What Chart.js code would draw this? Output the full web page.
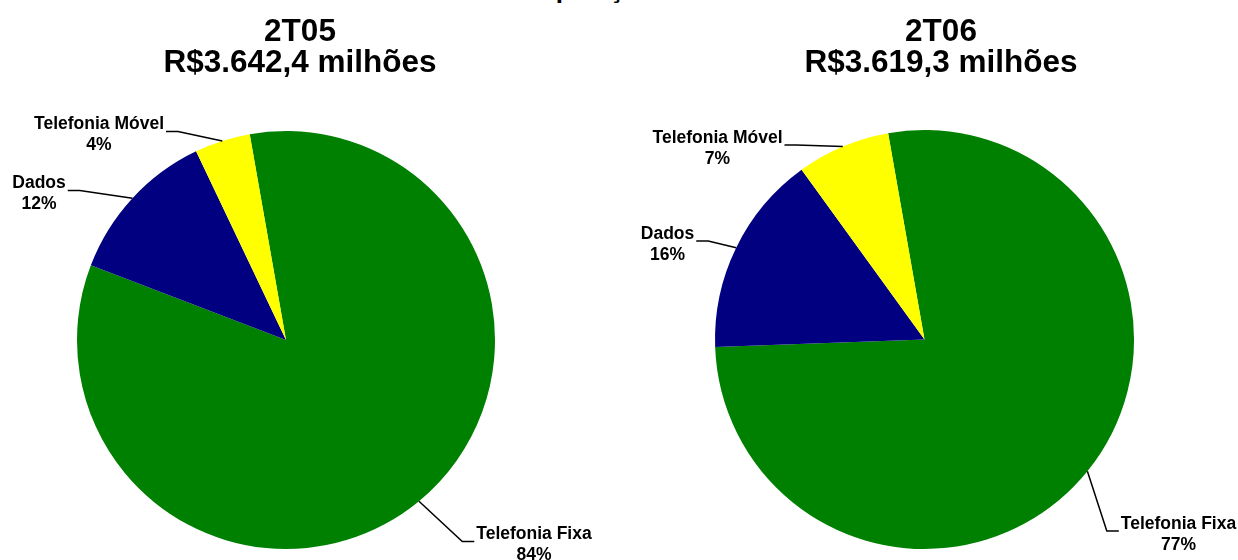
<!DOCTYPE html>
<html>
<head>
<meta charset="utf-8">
<script src="https://cdn.jsdelivr.net/npm/chart.js@4/dist/chart.umd.min.js"></script>
<style>
  html, body { margin: 0; padding: 0; background: #fff; overflow: hidden; }
  #wrap { position: relative; width: 1238px; height: 560px; overflow: hidden; }
  #pageTitle {
    position: absolute; left: 498px; top: -24.5px; white-space: nowrap;
    font: bold 26px "Liberation Sans", Arial, sans-serif; line-height: 26px; color: #000;
  }
  canvas { position: absolute; top: 0; }
</style>
</head>
<body>
<div id="wrap">
  <div id="pageTitle">Composição da Receita Bruta</div>
  <canvas id="pie1" width="619" height="560" style="left:0"></canvas>
  <canvas id="pie2" width="619" height="560" style="left:619px"></canvas>
</div>
<script>
// Data
const categories = ['Telefonia Fixa', 'Dados', 'Telefonia Móvel'];
const values2T05 = [83.6, 12.1, 4.3];
const values2T06 = [77.2, 15.6, 7.2];
const periods = ['2T05', '2T06'];
const totals = ['R$3.642,4 milhões', 'R$3.619,3 milhões'];

const colors = ['#008000', '#000080', '#FFFF00'];
const FONT = '"Liberation Sans", Arial, sans-serif';

// Draw titles and labels with leader lines
const pieLabels = {
  id: 'pieLabels',
  afterDatasetsDraw(chart, args, opts) {
    const ctx = chart.ctx;
    const ds = chart.data.datasets[0];
    const sum = ds.data.reduce((a, b) => a + b, 0);
    ctx.save();
    ctx.fillStyle = '#000';
    ctx.textAlign = 'center';
    ctx.textBaseline = 'alphabetic';

    // title
    ctx.font = 'bold 31.5px ' + FONT;
    ctx.fillText(opts.title[0], opts.titleX, 41);
    ctx.fillText(opts.title[1], opts.titleX, 72);

    // slice labels
    ctx.font = 'bold 17.5px ' + FONT;
    ctx.strokeStyle = '#000';
    ctx.lineWidth = 1.5;
    chart.getDatasetMeta(0).data.forEach((arc, i) => {
      const mid = (arc.startAngle + arc.endAngle) / 2;
      const ex = arc.x + Math.cos(mid) * arc.outerRadius;
      const ey = arc.y + Math.sin(mid) * arc.outerRadius;
      const off = opts.offsets[i];
      const cx = arc.x + off[0];
      const by = arc.y + off[1];
      const lines = [chart.data.labels[i], Math.round(ds.data[i] / sum * 100) + '%'];
      const w = Math.max(...lines.map(t => ctx.measureText(t).width));
      lines.forEach((t, k) => ctx.fillText(t, cx, by + k * 21));

      const left = off[0] < 0;
      const ax = left ? cx + w / 2 + 2 : cx - w / 2 - 2;
      const ay = by + 2.5;
      const bx = left ? ax + 12 : ax - 12;
      ctx.beginPath();
      ctx.moveTo(ex, ey);
      ctx.lineTo(bx, ay);
      ctx.lineTo(ax, ay);
      ctx.stroke();
    });
    ctx.restore();
  }
};

const makePie = (id, values, title, titleX, padding, offsets) => {
  new Chart(document.getElementById(id), {
    type: 'pie',
    data: {
      labels: categories,
      datasets: [{
        data: values,
        backgroundColor: colors,
        borderWidth: 0,
        hoverOffset: 0
      }]
    },
    options: {
      responsive: false,
      animation: false,
      rotation: -10,
      layout: { padding: padding },
      events: [],
      plugins: {
        legend: { display: false },
        tooltip: { enabled: false },
        pieLabels: { title: title, titleX: titleX, offsets: offsets }
      }
    },
    plugins: [pieLabels]
  });
};

makePie('pie1', values2T05, [periods[0], totals[0]], 300,
  { left: 77, top: 131, right: 124, bottom: 11 },
  [[248, 199], [-247, -152], [-187, -211]]);

makePie('pie2', values2T06, [periods[1], totals[1]], 322,
  { left: 96, top: 130, right: 104, bottom: 11 },
  [[254, 189], [-257, -101], [-207, -197]]);
</script>
</body>
</html>
